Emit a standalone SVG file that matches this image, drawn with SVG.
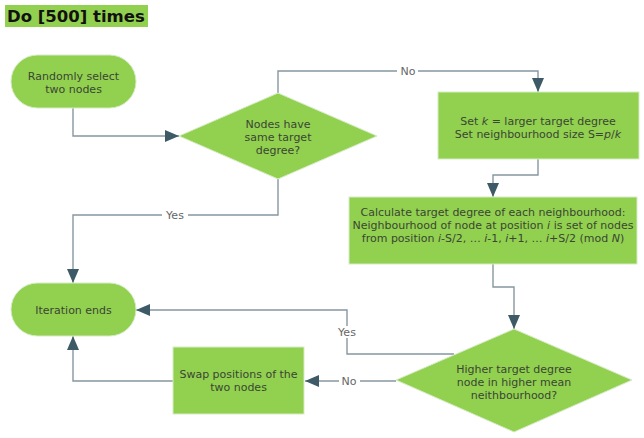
<svg xmlns="http://www.w3.org/2000/svg" width="644" height="438" viewBox="0 0 644 438">
<style>
.node{fill:#92d050;stroke:#d6ebc6;stroke-width:1}
.t{font-family:"DejaVu Sans",Verdana,sans-serif;font-size:11px;fill:#3a4633;text-anchor:middle}
.c{fill:none;stroke:#8796a0;stroke-width:1.4}
.lbl{font-family:"DejaVu Sans",Verdana,sans-serif;font-size:11px;fill:#666666;text-anchor:middle}
.lb{fill:#ffffff}
</style>
<defs>
<marker id="ah" viewBox="0 0 14 12" refX="14" refY="6" markerWidth="14" markerHeight="12" markerUnits="userSpaceOnUse" orient="auto">
<path d="M0,0 L14,6 L0,12 Z" fill="#3d5a66"/>
</marker>
</defs>
<rect width="644" height="438" fill="#ffffff"/>
<g id="title">
<rect x="5" y="5" width="143" height="22" fill="#92d050"/>
<text x="7" y="22" style="font-family:'DejaVu Sans',Verdana,sans-serif;font-size:16.5px;font-weight:bold;fill:#111">Do [500] times</text>
</g>
<g id="connectors">
<path class="c" d="M73,108 V136 H179" marker-end="url(#ah)"/>
<path class="c" d="M278,93 V71 H538 V92" marker-end="url(#ah)"/>
<path class="c" d="M538,159 V175 H493 V197" marker-end="url(#ah)"/>
<path class="c" d="M493,264 V287 H514 V329" marker-end="url(#ah)"/>
<path class="c" d="M278,179 V215 H73 V283" marker-end="url(#ah)"/>
<path class="c" d="M454,354 H347 V310 H136" marker-end="url(#ah)"/>
<path class="c" d="M396,381 H305" marker-end="url(#ah)"/>
<path class="c" d="M173,381 H73 V336" marker-end="url(#ah)"/>
<rect class="lb" x="162" y="209" width="26" height="12"/>
<text class="lbl" x="175" y="219">Yes</text>
<rect class="lb" x="397" y="65" width="21" height="12"/>
<text class="lbl" x="408" y="75">No</text>
<rect class="lb" x="334" y="326" width="26" height="12"/>
<text class="lbl" x="347" y="336">Yes</text>
<rect class="lb" x="339" y="375" width="21" height="12"/>
<text class="lbl" x="349" y="385">No</text>
</g>
<g id="n1">
<rect class="node" x="11" y="55" width="125" height="53" rx="26.5"/>
<text class="t" x="73.5" y="80">Randomly select</text>
<text class="t" x="73.5" y="93">two nodes</text>
</g>
<g id="n2">
<polygon class="node" points="278,93 377,136 278,179 179,136"/>
<text class="t" x="278" y="128">Nodes have</text>
<text class="t" x="278" y="141">same target</text>
<text class="t" x="278" y="154">degree?</text>
</g>
<g id="n3">
<rect class="node" x="438" y="92" width="201" height="67"/>
<text class="t" x="538" y="125">Set <tspan font-style="italic">k</tspan> = larger target degree</text>
<text class="t" x="538" y="138">Set neighbourhood size S=<tspan font-style="italic">p</tspan>/<tspan font-style="italic">k</tspan></text>
</g>
<g id="n4">
<rect class="node" x="349" y="197" width="288" height="67"/>
<text class="t" x="493" y="216">Calculate target degree of each neighbourhood:</text>
<text class="t" x="493" y="229">Neighbourhood of node at position <tspan font-style="italic">i</tspan> is set of nodes</text>
<text class="t" x="493" y="242">from position <tspan font-style="italic">i</tspan>-S/2, … <tspan font-style="italic">i</tspan>-1, <tspan font-style="italic">i</tspan>+1, … <tspan font-style="italic">i</tspan>+S/2 (mod <tspan font-style="italic">N</tspan>)</text>
</g>
<g id="n5">
<polygon class="node" points="514,329 632,380 514,432 396,380"/>
<text class="t" x="514" y="373">Higher target degree</text>
<text class="t" x="514" y="386">node in higher mean</text>
<text class="t" x="514" y="399">neithbourhood?</text>
</g>
<g id="n6">
<rect class="node" x="11" y="283" width="125" height="53" rx="26.5"/>
<text class="t" x="73.5" y="314">Iteration ends</text>
</g>
<g id="n7">
<rect class="node" x="173" y="347" width="131" height="67"/>
<text class="t" x="238.5" y="378">Swap positions of the</text>
<text class="t" x="238.5" y="391">two nodes</text>
</g>
</svg>
